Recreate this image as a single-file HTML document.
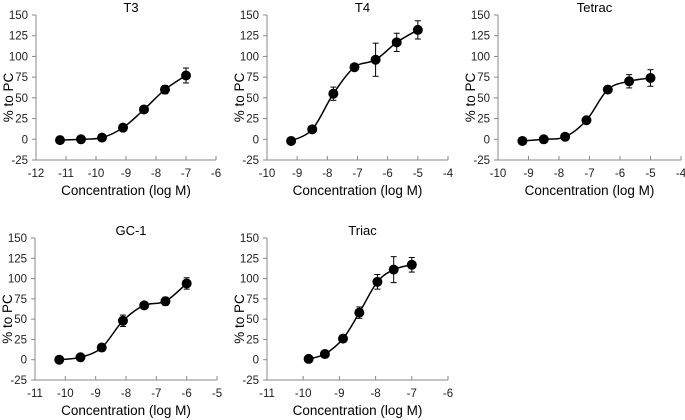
<!DOCTYPE html>
<html><head><meta charset="utf-8"><style>
body{margin:0;background:#fff;}
svg{display:block;font-family:"Liberation Sans",sans-serif;}
</style></head><body>
<svg id="c" width="685" height="420"></svg>
<script>
const titles=["T3","T4","Tetrac","GC-1","Triac"];
const xT3=[-11.2,-10.5,-9.8,-9.1,-8.4,-7.7,-7.0];
const yT3=[-1,0,2,14,36,60,77];
const eT3=[0,0,0,0,2,5,9];
const xT4=[-9.2,-8.5,-7.8,-7.1,-6.4,-5.7,-5.0];
const yT4=[-2,12,55,87,96,117,132];
const eT4=[0,3,8,1,20,11,11];
const xTetrac=[-9.2,-8.5,-7.8,-7.1,-6.4,-5.7,-5.0];
const yTetrac=[-2,0,3,23,60,70,74];
const eTetrac=[0,0,0,0,4,8,10];
const xGC1=[-10.2,-9.5,-8.8,-8.1,-7.4,-6.7,-6.0];
const yGC1=[0,3,15,48,67,72,94];
const eGC1=[0,0,0,7,4,5,7];
const xTriac=[-9.85,-9.4,-8.9,-8.45,-7.95,-7.5,-7.0];
const yTriac=[1,7,26,58,96,111,117];
const eTriac=[0,0,3,7,9,16,9];
const yTicks=[-25,0,25,50,75,100,125,150];
const xRanges=[[-12,-6],[-10,-4],[-10,-4],[-11,-5],[-11,-6]];
const series=[[xT3,yT3,eT3],[xT4,yT4,eT4],[xTetrac,yTetrac,eTetrac],[xGC1,yGC1,eGC1],[xTriac,yTriac,eTriac]];
const boxes=[[36,216,15,160],[267,448,15,160],[498,681,15,160],[35,217,238,380],[267,448,238,380]];
const ns="http://www.w3.org/2000/svg";
const svg=document.getElementById('c');
function el(t,a,p){const e=document.createElementNS(ns,t);for(const k in a)e.setAttribute(k,a[k]);(p||svg).appendChild(e);return e;}
series.forEach((s,i)=>{
  const [L,R,T,B]=boxes[i];const [x0,x1]=xRanges[i];
  const sx=v=>L+(v-x0)/(x1-x0)*(R-L);
  const sy=v=>B-(v+25)/175*(B-T);
  const g=el('g',{});
  
  
  const t=el('text',{x:(L+R)/2+5,y:T-3,'text-anchor':'middle','font-size':13},g);t.textContent=titles[i];
  
  el('line',{x1:L,y1:T,x2:L,y2:B,stroke:'#888','stroke-width':1},g);
  el('line',{x1:L,y1:B,x2:R,y2:B,stroke:'#888','stroke-width':1},g);
  yTicks.forEach(v=>{const y=sy(v);el('line',{x1:L-4,y1:y,x2:L,y2:y,stroke:'#888'},g);
    const tt=el('text',{x:L-8,y:y+4,'text-anchor':'end','font-size':11.5,fill:'#222'},g);tt.textContent=v;
    });
  for(let v=x0;v<=x1;v++){const x=sx(v);el('line',{x1:x,y1:B,x2:x,y2:B-4,stroke:'#888'},g);
    const tt=el('text',{x:x,y:B+17,'text-anchor':'middle','font-size':11.5,fill:'#222'},g);tt.textContent=v;
    }
  const xl=el('text',{x:(L+R)/2,y:B+35,'text-anchor':'middle','font-size':13.5},g);xl.textContent='Concentration (log M)';
  
  const yc=(T+B)/2+10;const yl=el('text',{x:0,y:0,transform:`translate(${L-23},${yc}) rotate(-90)`,'text-anchor':'middle','font-size':13.5},g);yl.textContent='% to PC';
  
  const [xs,ys,es]=s;const P=xs.map((v,k)=>[sx(v),sy(ys[k])]);
  let d=`M${P[0][0]},${P[0][1]}`;
  for(let k=0;k<P.length-1;k++){const p0=P[Math.max(k-1,0)],p1=P[k],p2=P[k+1],p3=P[Math.min(k+2,P.length-1)];
    d+=` C${p1[0]+(p2[0]-p0[0])/6},${p1[1]+(p2[1]-p0[1])/6} ${p2[0]-(p3[0]-p1[0])/6},${p2[1]-(p3[1]-p1[1])/6} ${p2[0]},${p2[1]}`;}
  const ln=el('path',{d:d,fill:'none',stroke:'#000','stroke-width':1.5},g);
  
  P.forEach((p,k)=>{const e=es[k];if(e>0){const a=sy(ys[k]+e),b=sy(ys[k]-e);
    el('line',{x1:p[0],y1:a,x2:p[0],y2:b,stroke:'#000'},g);
    el('line',{x1:p[0]-3,y1:a,x2:p[0]+3,y2:a,stroke:'#000'},g);
    el('line',{x1:p[0]-3,y1:b,x2:p[0]+3,y2:b,stroke:'#000'},g);}
    const c=el('circle',{cx:p[0],cy:p[1],r:5,fill:'#000'},g);
    });
});
</script>
</body></html>
